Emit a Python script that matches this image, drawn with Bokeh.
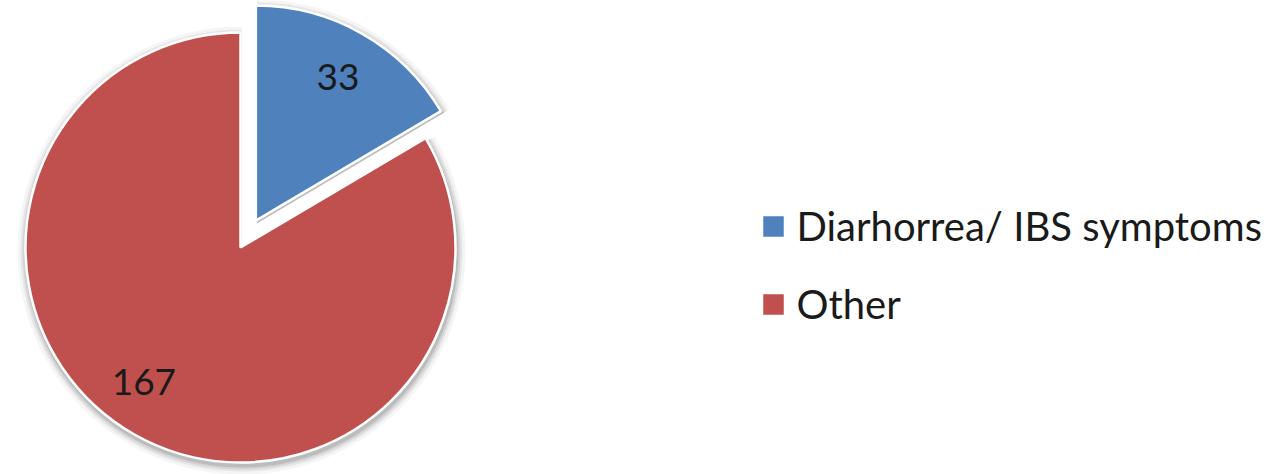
import math
from bokeh.plotting import figure
from bokeh.models import Range1d
from bokeh.core.properties import value
from bokeh.embed import file_html
from bokeh.resources import INLINE

# Chart data
categories = ["Diarhorrea/ IBS symptoms", "Other"]
counts = [33, 167]
colors = ["#4F81BD", "#C0504D"]
exploded = [True, False]

W, H = 1276, 474
p = figure(width=W, height=H, output_backend="svg", toolbar_location=None,
           x_range=Range1d(0, W), y_range=Range1d(0, H), min_border=0)
p.axis.visible = False
p.grid.visible = False
p.outline_line_color = None
p.background_fill_color = "white"

cx, cy = 240, 227          # pie centre (pixels, y up)
R = 215                     # radius
explode = 31                # offset for exploded slices
font = value("Lato")
label_turn = [0.0, -6.0]    # small angular nudges for the value labels (degrees)

total = sum(counts)
start = math.pi / 2         # first slice begins at 12 o'clock, runs clockwise
slices = []
for cat, n, col, ex in zip(categories, counts, colors, exploded):
    sweep = 2 * math.pi * n / total
    end = start - sweep
    mid = (start + end) / 2
    ox = cx + (explode * math.cos(mid) if ex else 0)
    oy = cy + (explode * math.sin(mid) if ex else 0)
    slices.append((ox, oy, start, end, mid, col, n))
    start = end

# soft shadow under each slice
for ox, oy, s, e, mid, col, n in slices:
    for k, a in [(9, 0.04), (6, 0.06), (4, 0.08), (2, 0.11)]:
        p.wedge(x=ox + 1, y=oy - 3, radius=R + k, start_angle=e, end_angle=s,
                fill_color="black", fill_alpha=a, line_color=None)

# slices with white edges
for ox, oy, s, e, mid, col, n in slices:
    p.wedge(x=ox, y=oy, radius=R, start_angle=e, end_angle=s,
            fill_color=col, line_color="white", line_width=2.5)

# value labels
for (ox, oy, s, e, mid, col, n), turn in zip(slices, label_turn):
    r_lab = 0.77 * R
    a = mid + math.radians(turn)
    p.text(x=[ox + r_lab * math.cos(a)], y=[oy + r_lab * math.sin(a)],
           text=[str(n)], text_align="center", text_baseline="middle",
           text_font=font, text_font_size="37px", text_color="#1a1a1a")

# legend
lx, ly0, dy = 773, 248, 78
for i, (cat, col) in enumerate(zip(categories, colors)):
    y = ly0 - i * dy
    p.rect(x=[lx], y=[y], width=21, height=21, fill_color=col,
           line_color="white", line_width=0.5)
    p.text(x=[lx + 23], y=[y + 1], text=[cat], text_align="left",
           text_baseline="middle", text_font=font, text_font_size="40px",
           text_color="#1a1a1a")

open("out.html", "w").write(file_html(p, INLINE))
